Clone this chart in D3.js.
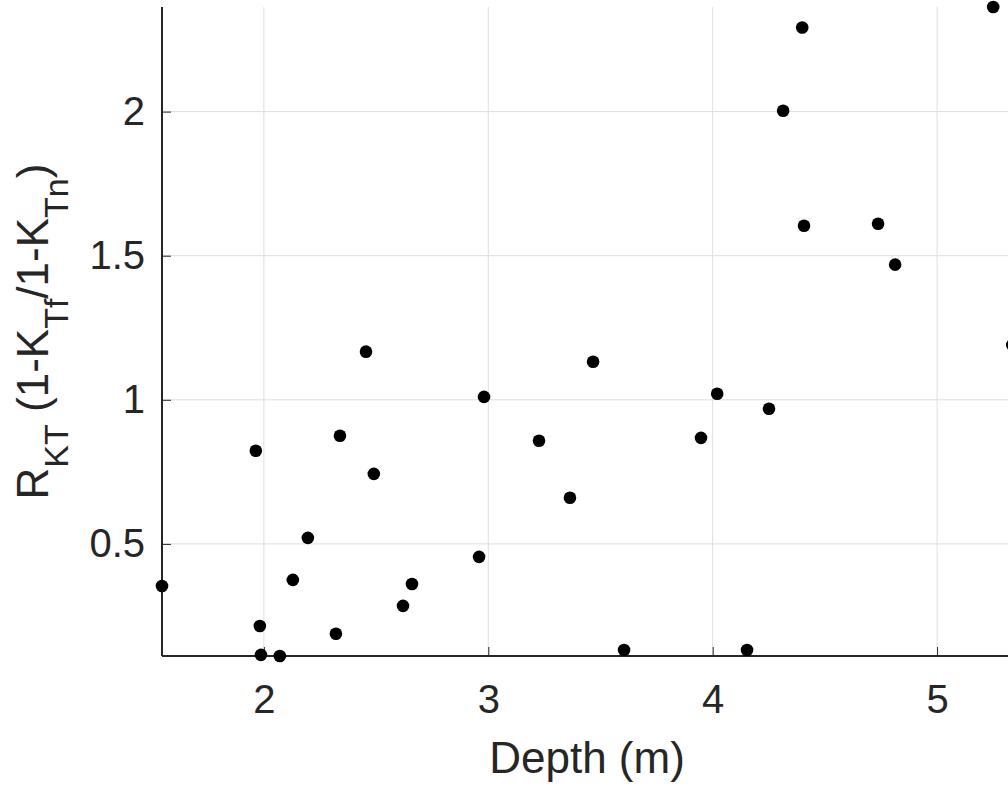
<!DOCTYPE html>
<html><head><meta charset="utf-8">
<script src="https://cdn.jsdelivr.net/npm/d3@7"></script>
<style>body{margin:0;background:#fff;overflow:hidden}svg{display:block}</style>
</head><body>
<script>
const depth = [1.546,1.964,1.982,1.987,2.071,2.129,2.196,2.321,2.339,2.455,2.490,2.620,2.660,2.959,2.981,3.226,3.364,3.467,3.605,3.948,4.020,4.153,4.251,4.314,4.399,4.407,4.737,4.813,5.250,5.335];
const rkt   = [0.354,0.823,0.215,0.115,0.111,0.375,0.521,0.188,0.875,1.167,0.743,0.285,0.361,0.455,1.010,0.858,0.660,1.132,0.132,0.868,1.021,0.132,0.969,2.003,2.292,1.604,1.611,1.469,2.363,1.190];
const xTicks = [2,3,4,5];
const yTicks = [0.5,1,1.5,2];
const xDomain = [1.546, 5.316];
const yDomain = [0.111, 2.363];

const W = 1008, H = 786;
const L = 162, T = 7, B = 656, R = 1008;
const svg = d3.select("body").append("svg").attr("width", W).attr("height", H);
const x = d3.scaleLinear().domain(xDomain).range([L, R]);
const y = d3.scaleLinear().domain(yDomain).range([B, T]);
const font = "'Liberation Sans', Arial, Helvetica, sans-serif";
const ink = "#262626";

// grid
svg.append("g").selectAll("line").data(xTicks).join("line")
  .attr("x1", d => x(d)).attr("x2", d => x(d)).attr("y1", T).attr("y2", B)
  .attr("stroke", "#dfdfdf").attr("stroke-width", 1);
svg.append("g").selectAll("line").data(yTicks).join("line")
  .attr("y1", d => y(d)).attr("y2", d => y(d)).attr("x1", L).attr("x2", R)
  .attr("stroke", "#dfdfdf").attr("stroke-width", 1);

// axes
const xa = svg.append("g").attr("transform", `translate(0,${B})`)
  .call(d3.axisBottom(x).tickValues(xTicks).tickSizeInner(-9).tickSizeOuter(0).tickPadding(29).tickFormat(d3.format("")));
const ya = svg.append("g").attr("transform", `translate(${L},0)`)
  .call(d3.axisLeft(y).tickValues(yTicks).tickSizeInner(-9).tickSizeOuter(0).tickPadding(17).tickFormat(d3.format("")));
[xa, ya].forEach(a => {
  a.select(".domain").attr("stroke", ink).attr("stroke-width", 2);
  a.selectAll(".tick line").attr("stroke", ink).attr("stroke-width", 1);
  a.selectAll(".tick text").attr("fill", ink).style("font-family", font).style("font-size", "40px");
});
ya.select(".domain").attr("d", `M0,${T}V${B}`);
xa.select(".domain").attr("d", `M${L},0H${R}`);

// points
svg.append("g").selectAll("circle").data(depth.map((d, i) => [d, rkt[i]])).join("circle")
  .attr("cx", d => x(d[0])).attr("cy", d => y(d[1])).attr("r", 6.3).attr("fill", "#000");

// x label
svg.append("text").attr("x", 587).attr("y", 773)
  .attr("text-anchor", "middle").attr("fill", ink)
  .style("font-family", font).style("font-size", "44px").text("Depth (m)");

// y label
const yl = svg.append("text").attr("transform", `translate(48,${(T + B) / 2}) rotate(-90)`)
  .attr("text-anchor", "middle").attr("fill", ink)
  .style("font-family", font).style("font-size", "44px");
const parts = [["R",0],["KT",1],[" (1-K",0],["Tf",1],["/1-K",0],["Tn",1],[")",0]];
let prev = 0;
parts.forEach(([t, s]) => {
  const sp = yl.append("tspan").text(t);
  const shift = (s ? 20 : 0) - prev;
  if (shift) sp.attr("dy", shift);
  if (s) sp.style("font-size", "34px");
  prev = s ? 20 : 0;
});
</script>
</body></html>
